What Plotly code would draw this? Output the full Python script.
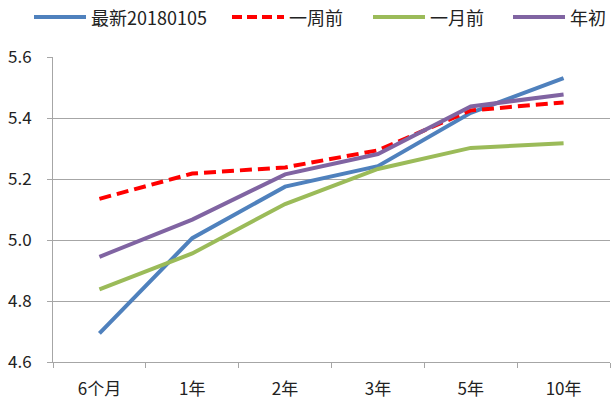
import plotly.graph_objects as go

categories = ["6个月", "1年", "2年", "3年", "5年", "10年"]
latest = [4.694, 5.006, 5.175, 5.242, 5.417, 5.531]
week_ago = [5.135, 5.218, 5.238, 5.294, 5.425, 5.451]
month_ago = [4.838, 4.956, 5.118, 5.233, 5.302, 5.317]
year_start = [4.945, 5.067, 5.215, 5.282, 5.438, 5.477]
y_ticks = [4.6, 4.8, 5.0, 5.2, 5.4, 5.6]

series_names = ["最新20180105", "一周前", "一月前", "年初"]
series_values = [latest, week_ago, month_ago, year_start]
series_colors = ["#4F81BD", "#FF0000", "#9BBB59", "#8064A2"]
series_dash = ["solid", "12px,6px", "solid", "solid"]
legend_dash = ["solid", "10px,5px", "solid", "solid"]

font_family = "Noto Sans CJK SC, Noto Sans, sans-serif"

# layout geometry (page pixels; body margin removed below)
W, H = 611, 408
L, R, T, B = 53, 1, 57, 46
PW, PH = W - L - R, H - T - B


def px2paper_x(px):
    return (px - L) / PW


def px2paper_y(py):
    return (H - B - py) / PH


fig = go.Figure()
for name, vals, col, dash in zip(series_names, series_values, series_colors, series_dash):
    fig.add_trace(go.Scatter(x=categories, y=vals, name=name, mode="lines",
                             line=dict(color=col, width=4, dash=dash),
                             showlegend=False, hoverinfo="skip"))

# manual legend
legend_sample_x = [34, 232, 373, 513]
legend_y = 17
shapes = []
annotations = []
for sx, name, col, dash in zip(legend_sample_x, series_names, series_colors, legend_dash):
    shapes.append(dict(type="line", xref="paper", yref="paper",
                       x0=px2paper_x(sx), x1=px2paper_x(sx + 52),
                       y0=px2paper_y(legend_y), y1=px2paper_y(legend_y),
                       line=dict(color=col, width=4, dash=dash)))
    annotations.append(dict(xref="paper", yref="paper", x=px2paper_x(sx + 55),
                            y=px2paper_y(legend_y), xanchor="left", yanchor="middle",
                            text=name, showarrow=False,
                            font=dict(size=18, color="#222222", family=font_family)))

fig.update_layout(
    width=W, height=H,
    margin=dict(l=L, r=R, t=T, b=B, autoexpand=False),
    paper_bgcolor="white", plot_bgcolor="white",
    font=dict(family=font_family, size=17, color="#222222"),
    showlegend=False,
    hovermode=False,
    shapes=shapes,
    annotations=annotations,
    xaxis=dict(type="category", range=[-0.5, 5.5], tickson="boundaries", ticks="outside", ticklen=5,
               tickcolor="#A6A6A6", showgrid=False, showline=True, linecolor="#A6A6A6",
               linewidth=1, tickfont=dict(size=17), ticklabelstandoff=12, fixedrange=True),
    yaxis=dict(range=[4.6, 5.6], tickvals=y_ticks, ticktext=[f"{v:.1f}" for v in y_ticks],
               ticks="outside", ticklen=5, tickcolor="#A6A6A6", showgrid=True,
               gridcolor="#A6A6A6", gridwidth=1, showline=True, linecolor="#A6A6A6",
               zeroline=False, tickfont=dict(size=17), ticklabelstandoff=12, fixedrange=True),
)

fig.write_html("out.html", config={"displayModeBar": False, "staticPlot": True},
               post_script="document.body.style.margin='0';document.body.style.overflow='hidden';")
